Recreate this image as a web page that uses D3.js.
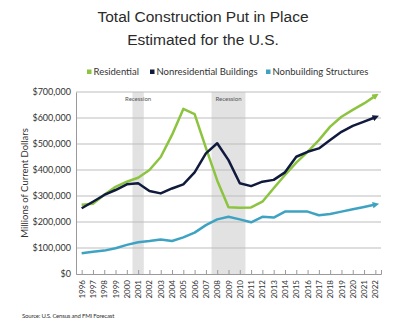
<!DOCTYPE html>
<html><head><meta charset="utf-8">
<script src="https://cdn.jsdelivr.net/npm/d3@7"></script>
<style>
html,body{margin:0;padding:0;background:#fff;}
svg{display:block;}
</style></head>
<body><svg id="c" width="400" height="326"></svg>
<script>
const years = d3.range(1996, 2023).map(String);
const residential = [266,270,305,335,355,370,400,450,535,635,615,485,360,257,255,256,278,330,381,428,470,515,567,605,631,656,685];
const nonresidential = [253,278,304,323,345,349,319,310,329,345,391,464,503,438,349,338,355,362,391,451,470,483,515,547,570,586,603];
const nonbuilding = [80,86,90,99,112,122,127,133,127,141,159,188,210,220,210,199,220,217,240,240,240,226,231,240,249,258,267];
const seriesNames = ["Residential","Nonresidential Buildings","Nonbuilding Structures"];
const colors = ["#8cc43f","#101a3d","#3ea3c2"];
const yTicks = [0,100,200,300,400,500,600,700];
const recessions = [["2001","2001"],["2008","2010"]];

const svg = d3.select("#c");
const pL = 76, pR = 381, pT = 92, pB = 274;
const x = d3.scalePoint().domain(years).range([pL, pR]).padding(0.5);
const step = x.step();
const y = d3.scaleLinear().domain([0, 700]).range([pB, pT]);

// Title
svg.append("text").attr("x", 203).attr("y", 22).attr("text-anchor","middle")
  .attr("font-family","Liberation Sans, Arial, sans-serif").attr("font-size", 15.5).attr("fill","#2a2a2a")
  .text("Total Construction Put in Place");
svg.append("text").attr("x", 203).attr("y", 44.5).attr("text-anchor","middle")
  .attr("font-family","Liberation Sans, Arial, sans-serif").attr("font-size", 15.5).attr("fill","#2a2a2a")
  .text("Estimated for the U.S.");

// Recession bands
recessions.forEach(r => {
  const x0 = x(r[0]) - step/2, x1 = x(r[1]) + step/2;
  svg.append("rect").attr("x", x0).attr("y", pT).attr("width", x1 - x0).attr("height", pB - pT)
    .attr("fill", "#e2e2e2");
  svg.append("text").attr("x", (x0 + x1)/2).attr("y", 101).attr("text-anchor","middle")
    .attr("font-family","Lato, sans-serif").attr("font-size", 6).attr("fill","#555").text("Recession");
});

// Grid
svg.append("g").selectAll("line").data(yTicks.filter(d => d > 0)).join("line")
  .attr("x1", pL).attr("x2", pR).attr("y1", d => y(d)).attr("y2", d => y(d))
  .attr("stroke", "#bdbdbd").attr("stroke-width", 1);

// Y axis
const yAxis = svg.append("g").attr("transform", `translate(${pL},0)`)
  .call(d3.axisLeft(y).tickValues(yTicks).tickSize(0).tickPadding(5)
    .tickFormat(d => "$" + d3.format(",")(d * 1000)));
yAxis.select(".domain").attr("stroke", "#9a9a9a");
yAxis.selectAll("text").attr("font-family","Lato, sans-serif").attr("font-size", 9).attr("fill","#333");

// X axis
const xAxis = svg.append("g").attr("transform", `translate(0,${pB})`)
  .call(d3.axisBottom(x).tickSize(-4).tickPadding(6));
xAxis.select(".domain").attr("stroke", "#9a9a9a");
xAxis.selectAll(".tick line").attr("stroke", "#9a9a9a");
xAxis.selectAll("text").attr("font-family","Lato, sans-serif").attr("font-size", 8).attr("fill","#333")
  .attr("transform", "rotate(-90)").attr("text-anchor","end").attr("x", -6).attr("y", 0).attr("dy", "0.32em");

// Y title
svg.append("text").attr("transform", `translate(28,${(pT+pB)/2}) rotate(-90)`).attr("text-anchor","middle")
  .attr("font-family","Lato, sans-serif").attr("font-size", 9.5).attr("fill","#333")
  .text("Millions of Current Dollars");

// Markers
const defs = svg.append("defs");
colors.forEach((c, i) => {
  defs.append("marker").attr("id", "arr" + i).attr("viewBox", "0 0 10 10").attr("refX", 4).attr("refY", 5)
    .attr("markerWidth", 2.6).attr("markerHeight", 2.6).attr("orient", "auto-start-reverse")
    .append("path").attr("d", "M0,0 L10,5 L0,10 z").attr("fill", c);
});

// Lines
const line = d3.line().x((d, i) => x(years[i])).y(d => y(d));
[residential, nonresidential, nonbuilding].forEach((s, i) => {
  svg.append("path").attr("d", line(s)).attr("fill","none").attr("stroke", colors[i])
    .attr("stroke-width", 2.5).attr("stroke-linejoin","round").attr("marker-end", `url(#arr${i})`);
});

// Legend
const legX = [87, 150, 266];
seriesNames.forEach((n, i) => {
  svg.append("rect").attr("x", legX[i]).attr("y", 69.5).attr("width", 4.5).attr("height", 4.5).attr("fill", colors[i]);
  svg.append("text").attr("x", legX[i] + 6.5).attr("y", 74.5)
    .attr("font-family","Lato, sans-serif").attr("font-size", 9.5).attr("fill","#333").text(n);
});

// Source
svg.append("text").attr("x", 22).attr("y", 318)
  .attr("font-family","Lato, sans-serif").attr("font-size", 6).attr("fill","#333")
  .attr("letter-spacing", -0.2).text("Source: U.S. Census and FMI Forecast");
</script></body></html>
